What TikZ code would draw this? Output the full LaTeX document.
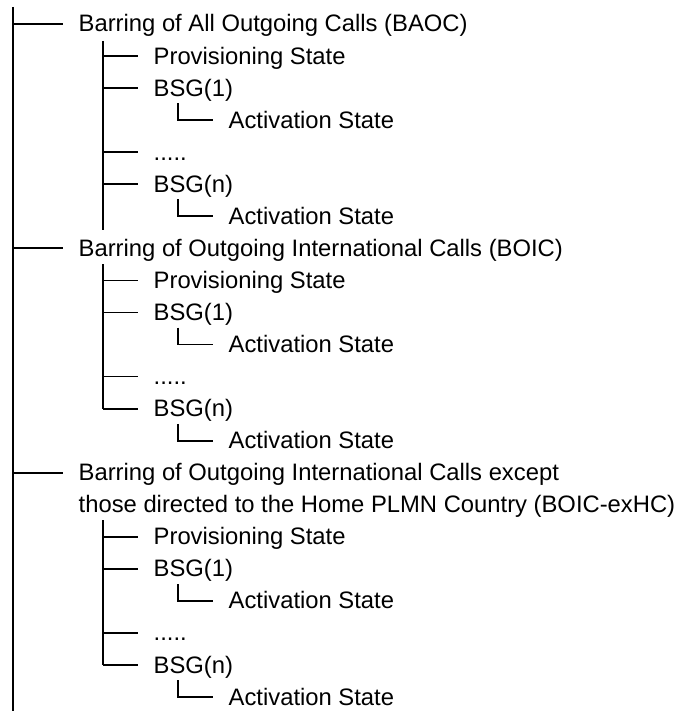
\documentclass[tikz,border=0pt]{standalone}
\usepackage{fontspec}
\setmainfont{Liberation Sans}
\begin{document}
\begin{tikzpicture}[x=1pt,y=-1pt,
  lbl/.style={anchor=west,inner sep=0pt,text height=16pt,text depth=0pt,
    font=\fontsize{23.8}{32.05}\selectfont},
  conn/.style={line width=1.8pt,shorten >=15.5pt},
  spine/.style={line width=1.8pt}]
\useasboundingbox (0,0) rectangle (683,711);
% level 1 labels
\node[lbl] (baoc) at (78.5,24) {Barring of All Outgoing Calls (BAOC)};
\node[lbl] (boic) at (78.5,248.35) {Barring of Outgoing International Calls (BOIC)};
\node[lbl] (exhc) at (78.5,472.7) {\vtop{\hbox{Barring of Outgoing International Calls except}\hbox{those directed to the Home PLMN Country (BOIC-exHC)}}};
% BAOC children
\node[lbl] (prov1) at (153.5,56.05) {Provisioning State};
\node[lbl] (bsga1) at (153.5,88.1) {BSG(1)};
\node[lbl] (acta1) at (228.5,120.15) {Activation State};
\node[lbl] (dots1) at (153.5,152.2) {.....};
\node[lbl] (bsgn1) at (153.5,184.25) {BSG(n)};
\node[lbl] (actn1) at (228.5,216.3) {Activation State};
% BOIC children
\node[lbl] (prov2) at (153.5,280.4) {Provisioning State};
\node[lbl] (bsga2) at (153.5,312.45) {BSG(1)};
\node[lbl] (acta2) at (228.5,344.5) {Activation State};
\node[lbl] (dots2) at (153.5,376.55) {.....};
\node[lbl] (bsgn2) at (153.5,408.6) {BSG(n)};
\node[lbl] (actn2) at (228.5,440.65) {Activation State};
% BOIC-exHC children
\node[lbl] (prov3) at (153.5,536.8) {Provisioning State};
\node[lbl] (bsga3) at (153.5,568.85) {BSG(1)};
\node[lbl] (acta3) at (228.5,600.9) {Activation State};
\node[lbl] (dots3) at (153.5,632.95) {.....};
\node[lbl] (bsgn3) at (153.5,665.0) {BSG(n)};
\node[lbl] (actn3) at (228.5,697.05) {Activation State};
% trunk
\coordinate (top) at (13,7);
\coordinate (bot) at (13,711);
\draw[spine] (top) -- (bot);
\foreach \n in {baoc,boic,exhc}
  \draw[conn] (top |- \n.west) -- (\n.west);
% level 2 spines
\coordinate (s1top) at (103,41);
\coordinate (s1bot) at (103,230);
\draw[spine] (s1top) -- (s1bot);
\coordinate (s2top) at (103,264);
\draw[spine] (s2top) -- (s2top |- bsgn2.west);
\coordinate (s3top) at (103,520);
\draw[spine] (s3top) -- (s3top |- bsgn3.west);
\foreach \n in {prov1,bsga1,dots1,bsgn1}
  \draw[conn] (s1top |- \n.west) -- (\n.west);
\foreach \n in {prov2,bsga2,dots2,bsgn2}
  \draw[conn] (s2top |- \n.west) -- (\n.west);
\foreach \n in {prov3,bsga3,dots3,bsgn3}
  \draw[conn] (s3top |- \n.west) -- (\n.west);
% level 3 L connectors
\foreach \p/\c in {bsga1/acta1,bsgn1/actn1,bsga2/acta2,bsgn2/actn2,bsga3/acta3,bsgn3/actn3}
  \draw[conn] ([xshift=24.5pt,yshift=-7pt]\p.south west) |- (\c.west);
\end{tikzpicture}
\end{document}
